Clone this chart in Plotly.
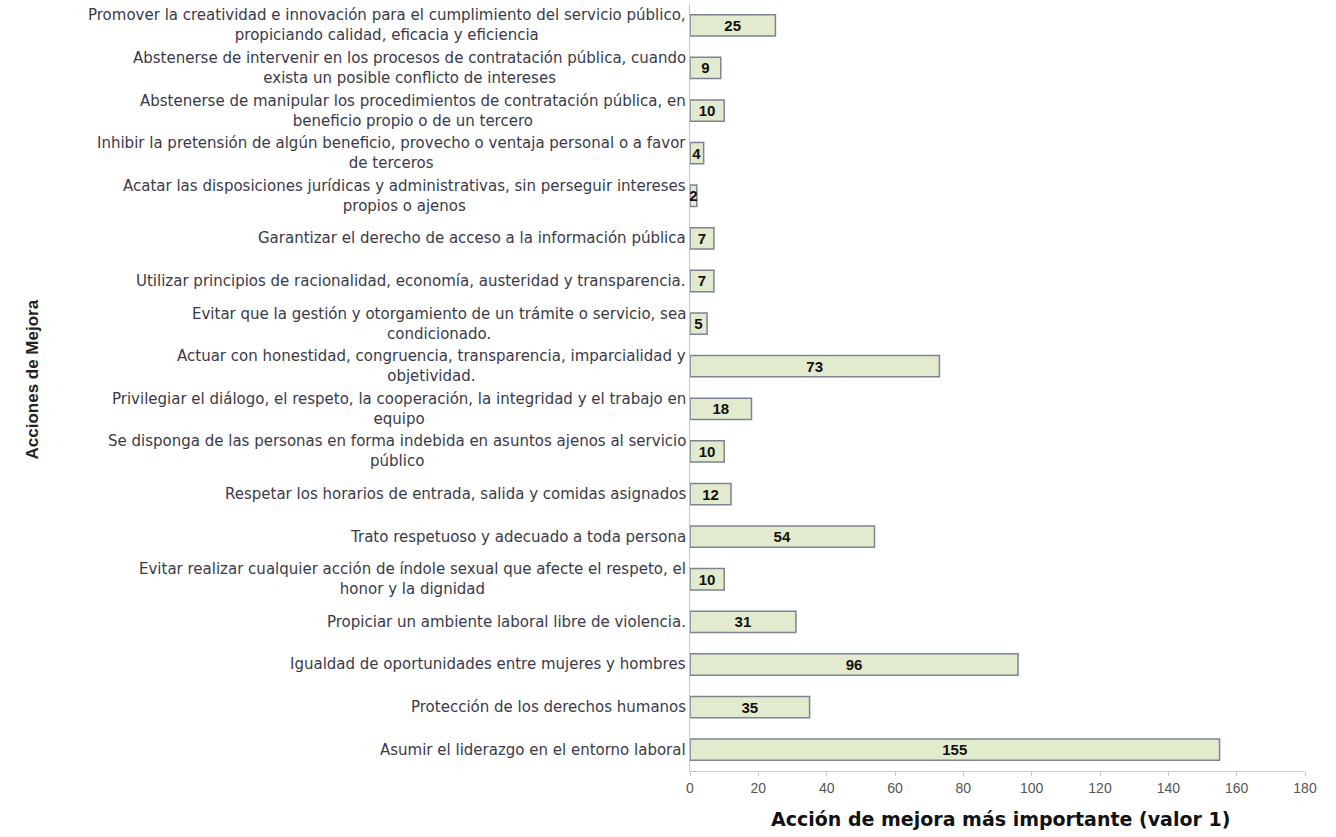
import plotly.graph_objects as go

categories = [
    "Promover la creatividad e innovación para el cumplimiento del servicio público,<br>propiciando calidad, eficacia y eficiencia",
    "Abstenerse de intervenir en los procesos de contratación pública, cuando<br>exista un posible conflicto de intereses",
    "Abstenerse de manipular los procedimientos de contratación pública, en<br>beneficio propio o de un tercero",
    "Inhibir la pretensión de algún beneficio, provecho o ventaja personal o a favor<br>de terceros",
    "Acatar las disposiciones jurídicas y administrativas, sin perseguir intereses<br>propios o ajenos",
    "Garantizar el derecho de acceso a la información pública",
    "Utilizar principios de racionalidad, economía, austeridad y transparencia.",
    "Evitar que la gestión y otorgamiento de un trámite o servicio, sea<br>condicionado.",
    "Actuar con honestidad, congruencia, transparencia, imparcialidad y<br>objetividad.",
    "Privilegiar el diálogo, el respeto, la cooperación, la integridad y el trabajo en<br>equipo",
    "Se disponga de las personas en forma indebida en asuntos ajenos al servicio<br>público",
    "Respetar los horarios de entrada, salida y comidas asignados",
    "Trato respetuoso y adecuado a toda persona",
    "Evitar realizar cualquier acción de índole sexual que afecte el respeto, el<br>honor y la dignidad",
    "Propiciar un ambiente laboral libre de violencia.",
    "Igualdad de oportunidades entre mujeres y hombres",
    "Protección de los derechos humanos",
    "Asumir el liderazgo en el entorno laboral",
]
values = [25, 9, 10, 4, 2, 7, 7, 5, 73, 18, 10, 12, 54, 10, 31, 96, 35, 155]
x_ticks = [0, 20, 40, 60, 80, 100, 120, 140, 160, 180]
x_title = "Acción de mejora más importante (valor 1)"
y_title = "Acciones de Mejora"

# bottom-to-top order for plotting
cats_plot = categories[::-1]
vals_plot = values[::-1]

W, H = 1336, 837
L, R, T, B = 690, 31, 4, 66
plot_w = W - L - R
plot_h = H - T - B

fig = go.Figure()
fig.add_trace(go.Bar(
    y=cats_plot,
    x=vals_plot,
    orientation="h",
    marker=dict(color="#e3ebcf", line=dict(color="#7d8394", width=1.5)),
    text=[str(v) for v in vals_plot],
    textposition="inside",
    insidetextanchor="middle",
    constraintext="none",
    textangle=0,
    textfont=dict(family="Liberation Sans, Arial", size=15, color="#111111", weight="bold"),
    width=0.5,
))

annotations = []
for c in cats_plot:
    annotations.append(dict(
        x=-0.004, xref="paper", y=c, yref="y",
        text=c, showarrow=False, xanchor="right", yanchor="middle",
        align="center",
        font=dict(family="DejaVu Sans, Verdana", size=15, color="#3a3a48"),
    ))
annotations.append(dict(
    x=(1000 - L) / plot_w, xref="paper", y=-(806 - (H - B)) / plot_h, yref="paper",
    yanchor="top",
    text="<b>" + x_title + "</b>", showarrow=False,
    font=dict(family="DejaVu Sans, Verdana", size=19, color="#111111"),
))
annotations.append(dict(
    x=(20 - L) / plot_w, xref="paper", y=(H - B - 380) / plot_h, yref="paper",
    text="<b>" + y_title + "</b>", showarrow=False, textangle=-90,
    font=dict(family="Liberation Sans, Arial", size=17, color="#222222"),
))

fig.update_layout(
    width=W, height=H,
    margin=dict(l=L, r=R, t=T, b=B),
    paper_bgcolor="white", plot_bgcolor="white",
    showlegend=False,
    annotations=annotations,
    xaxis=dict(
        range=[0, 180], tickvals=x_ticks, showgrid=False, zeroline=False,
        showline=True, linecolor="#c8c8c8", linewidth=1,
        ticks="outside", ticklen=4, tickcolor="#c8c8c8",
        tickfont=dict(family="Liberation Sans, Arial", size=14, color="#555555"),
    ),
    yaxis=dict(
        categoryorder="array", categoryarray=cats_plot,
        showticklabels=False, showgrid=False, zeroline=False,
        showline=True, linecolor="#c8c8c8", linewidth=1,
    ),
)

fig.write_html(
    "out.html",
    config={"displayModeBar": False},
    post_script="document.body.style.margin='0';document.body.style.overflow='hidden';",
)
